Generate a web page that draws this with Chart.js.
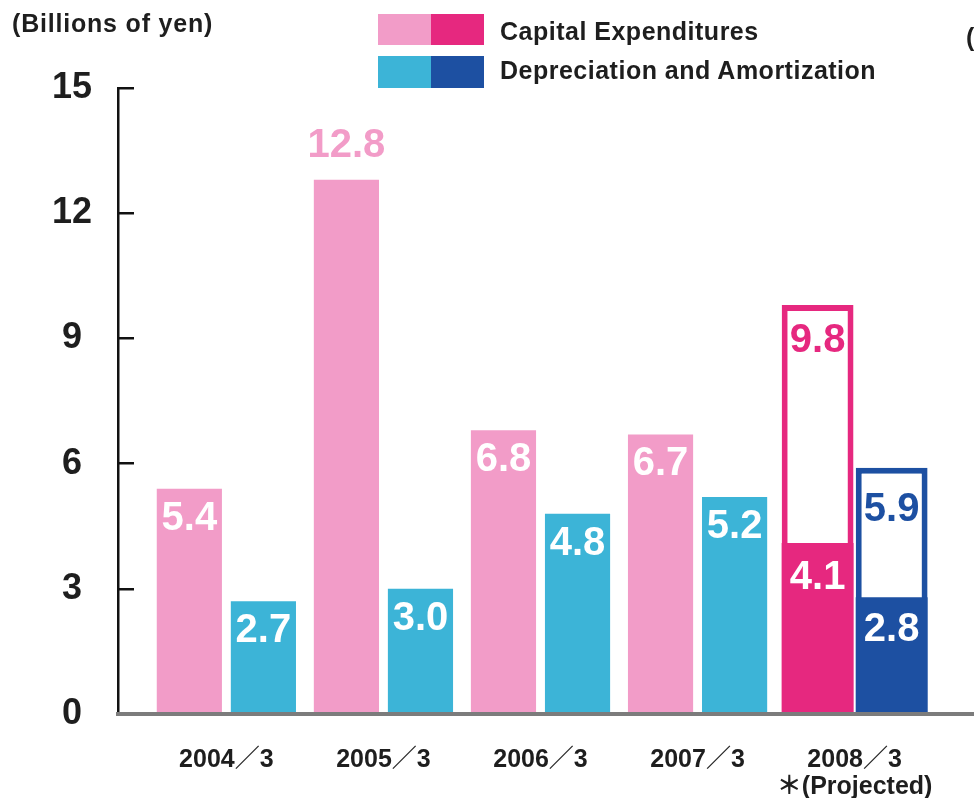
<!DOCTYPE html>
<html>
<head>
<meta charset="utf-8">
<script src="https://cdn.jsdelivr.net/npm/chart.js@4.4.1/dist/chart.umd.min.js"></script>
<style>
  html, body { margin: 0; padding: 0; background: #fff; }
  body { width: 974px; height: 798px; position: relative; overflow: hidden;
         font-family: 'Liberation Sans', 'Noto Sans CJK JP', sans-serif; font-weight: bold; color: #1e1e1e; }
  #wrap { position: absolute; left: 0; top: 0; width: 974px; height: 798px; }
  .unit { position: absolute; left: 12px; top: 8px; font-size: 25px; line-height: 30px; letter-spacing: 0.8px; }
  .legend { position: absolute; left: 378px; top: 0; font-size: 25px; }
  .legend .sw { position: absolute; width: 53px; }
  .legend .txt { position: absolute; left: 122px; white-space: nowrap; line-height: 30px; letter-spacing: 0.5px; }
  .cut { position: absolute; left: 966px; top: 22px; font-size: 25px; line-height: 30px; }
</style>
</head>
<body>
<div id="wrap"><canvas id="chart"></canvas></div>
<div class="unit">(Billions of yen)</div>
<div class="legend" id="legend"></div>
<div class="cut">(</div>

<script>
// values, billions of yen
const years = ['2004／3', '2005／3', '2006／3', '2007／3', ['2008／3', '＊(Projected)']];
const capex = [5.4, 12.8, 6.8, 6.7, 9.8];
const depreciation = [2.7, 3.0, 4.8, 5.2, 5.9];
// filled part inside the projected 2008 bars
const capexInner = [null, null, null, null, 4.1];
const deprInner = [null, null, null, null, 2.8];
const projected = [false, false, false, false, true];
const yTicks = [0, 3, 6, 9, 12, 15];

const PINK = '#f29cc8', PINK_DARK = '#e6287f';
const BLUE = '#3cb4d7', BLUE_DARK = '#1d50a2';
const FONT = "'Liberation Sans', 'Noto Sans CJK JP', sans-serif";

// legend (two swatches per series)
const legendRows = [
  { text: 'Capital Expenditures', colors: [PINK, PINK_DARK], top: 14, h: 31, textTop: 16 },
  { text: 'Depreciation and Amortization', colors: [BLUE, BLUE_DARK], top: 56, h: 32, textTop: 55 }
];
const legendEl = document.getElementById('legend');
legendRows.forEach(r => {
  legendEl.innerHTML += `
    <div class="sw" style="left:0;top:${r.top}px;height:${r.h}px;background:${r.colors[0]}"></div>
    <div class="sw" style="left:53px;top:${r.top}px;height:${r.h}px;background:${r.colors[1]}"></div>
    <div class="txt" style="top:${r.textTop}px">${r.text}</div>`;
});

function points(values, keep) {
  return values
    .map((v, i) => ({ x: i, y: v }))
    .filter((p, i) => p.y !== null && keep(i));
}

// value labels drawn at each bar
const valueLabels = {
  id: 'valueLabels',
  afterDatasetsDraw(chart) {
    const ctx = chart.ctx;
    ctx.save();
    ctx.font = `bold 40px ${FONT}`;
    ctx.textAlign = 'center';
    ctx.textBaseline = 'middle';
    chart.data.datasets.forEach((ds, di) => {
      const meta = chart.getDatasetMeta(di);
      meta.data.forEach((bar, i) => {
        const v = ds.data[i].y;
        const lab = ds.valueLabel;
        if (lab.above && lab.above(v)) {
          ctx.fillStyle = lab.aboveColor;
          ctx.fillText(v.toFixed(1), bar.x, bar.y - 34);
        } else {
          ctx.fillStyle = lab.color;
          ctx.fillText(v.toFixed(1), bar.x, bar.y + lab.offset);
        }
      });
    });
    ctx.restore();
  }
};

new Chart(document.getElementById('chart'), {
  type: 'bar',
  data: {
    datasets: [
      {
        label: 'Capital Expenditures (filled)', stack: 'capex',
        data: points(capexInner, () => true),
        backgroundColor: PINK_DARK, barPercentage: 0.97,
        valueLabel: { color: '#fff', offset: 35 }
      },
      {
        label: 'Depreciation and Amortization (filled)', stack: 'depr',
        data: points(deprInner, () => true),
        backgroundColor: BLUE_DARK, barPercentage: 0.97,
        valueLabel: { color: '#fff', offset: 33 }
      },
      {
        label: 'Capital Expenditures (projected)', stack: 'capex',
        data: points(capex, i => projected[i]),
        backgroundColor: '#fff', borderColor: PINK_DARK, borderWidth: 6, borderSkipped: false,
        barPercentage: 0.97,
        valueLabel: { color: PINK_DARK, offset: 36 }
      },
      {
        label: 'Depreciation and Amortization (projected)', stack: 'depr',
        data: points(depreciation, i => projected[i]),
        backgroundColor: '#fff', borderColor: BLUE_DARK, borderWidth: 6, borderSkipped: false,
        barPercentage: 0.97,
        valueLabel: { color: BLUE_DARK, offset: 42 }
      },
      {
        label: 'Capital Expenditures', stack: 'capex',
        data: points(capex, i => !projected[i]),
        backgroundColor: PINK, barPercentage: 0.88,
        valueLabel: { color: '#fff', offset: 30, above: v => v > 12, aboveColor: PINK }
      },
      {
        label: 'Depreciation and Amortization', stack: 'depr',
        data: points(depreciation, i => !projected[i]),
        backgroundColor: BLUE, barPercentage: 0.88,
        valueLabel: { color: '#fff', offset: 30 }
      }
    ]
  },
  options: {
    responsive: true,
    maintainAspectRatio: false,
    animation: false,
    layout: { padding: { top: 88, left: 0, right: 0, bottom: 0 } },
    plugins: { legend: { display: false }, tooltip: { enabled: false } },
    datasets: { bar: { categoryPercentage: 0.943 } },
    scales: {
      x: {
        type: 'linear',
        offset: false,
        stacked: true,
        min: -0.69,
        max: 4.76,
        afterBuildTicks: scale => { scale.ticks = years.map((y, i) => ({ value: i })); },
        afterFit: scale => { scale.height = 84; },
        grid: { offset: false, drawOnChartArea: false, drawTicks: false },
        border: { display: true, color: '#7c7c7c', width: 4, z: 1 },
        ticks: {
          autoSkip: false, maxRotation: 0, padding: 32,
          color: '#1e1e1e',
          font: { family: FONT, size: 25, weight: 'bold', lineHeight: 1.1 },
          callback: v => years[v]
        }
      },
      y: {
        stacked: false,
        min: 0,
        max: 15,
        afterBuildTicks: scale => { scale.ticks = yTicks.map(v => ({ value: v })); },
        afterFit: scale => { scale.width = 118; },
        grid: { drawOnChartArea: false, drawTicks: true, tickLength: -16, color: '#111', lineWidth: 2.5 },
        border: { display: true, color: '#111', width: 2.5 },
        ticks: {
          crossAlign: 'center', padding: 42,
          color: '#1e1e1e',
          font: { family: FONT, size: 36, weight: 'bold' }
        }
      }
    }
  },
  plugins: [valueLabels]
});
</script>
</body>
</html>
